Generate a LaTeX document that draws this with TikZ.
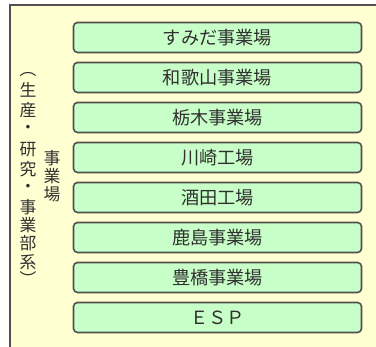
\documentclass[tikz,border=0pt]{standalone}
\usepackage{fontspec}
\setmainfont{Noto Sans CJK JP}
\definecolor{bgyellow}{HTML}{FFFFD2}
\definecolor{boxgreen}{HTML}{C8FFC8}
\definecolor{edge}{HTML}{505050}
\definecolor{txt}{HTML}{303030}
\begin{document}
\begin{tikzpicture}[x=1pt,y=-1pt,
  site/.style={draw=edge,line width=1.6pt,fill=boxgreen,rounded corners=4pt,
    minimum width=288pt,minimum height=30pt,inner sep=0pt,
    font=\fontsize{18.2}{20}\selectfont,text=txt},
  vchar/.style={inner sep=0pt,font=\fontsize{16.8}{16.8}\selectfont,text=txt}]
\useasboundingbox (0,0) rectangle (376,347);
\fill[white] (0,0) rectangle (376,347);
\path[fill=bgyellow] (10,5) rectangle (380,350);
\draw[edge,line width=1.4pt] (10,352) -- (10,5) -- (380,5);
\foreach \t [count=\i] in {すみだ事業場,和歌山事業場,栃木事業場,川崎工場,酒田工場,鹿島事業場,豊橋事業場,ＥＳＰ}{
  \node[site] (b\i) at (217.5,{37.5+40*(\i-1)}) {\t};
}
\foreach \c/\y [count=\i] in {︵/75,生/90,産/110,・/129,研/150,究/169,・/188,事/207,業/225,部/243,系/262,︶/278}{
  \node[vchar] (l\i) at (28,\y) {\c};
}
\foreach \c/\y [count=\i] in {事/158,業/176,場/194}{
  \node[vchar] (r\i) at (52,\y) {\c};
}
\end{tikzpicture}
\end{document}
